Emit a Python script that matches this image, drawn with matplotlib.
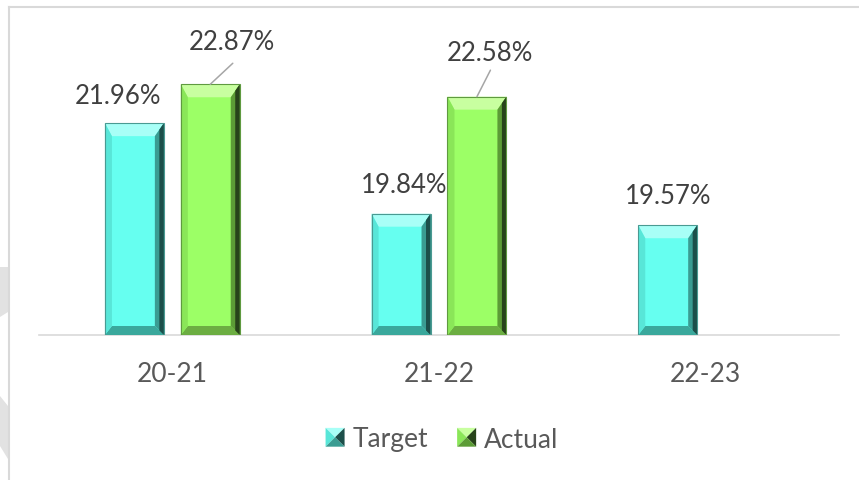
import matplotlib
matplotlib.use("Agg")
import matplotlib.pyplot as plt
from matplotlib.patches import Polygon, Patch
from matplotlib.lines import Line2D
from matplotlib.legend_handler import HandlerBase
import numpy as np

# data
categories = ["20-21", "21-22", "22-23"]
target = [21.96, 19.84, 19.57]
actual = [22.87, 22.58, np.nan]
series_names = ["Target", "Actual"]

plt.rcParams["font.family"] = ["Lato", "DejaVu Sans"]

W, H = 859, 481
YMIN, YMAX = 17, 24
BAR_W = 0.221
OFFSET = 0.1423

# colours: face, top, left, right, right-outer, bottom, outline
PAL = {
    "Target": dict(face="#66fff0", top="#a8fff7", left="#58e6d8", right="#3a9c92",
                   right2="#1c4f4a", bottom="#3aa89c", edge="#4a9a92"),
    "Actual": dict(face="#9cff66", top="#c8ffa0", left="#8ae658", right="#5c9c36",
                   right2="#27431a", bottom="#6cae42", edge="#5f9a40"),
}

# label offsets (pixels) from bar top centre, leader end offsets
label_pos = {
    ("Target", 0): (-16, 28), ("Actual", 0): (21.5, 43),
    ("Target", 1): (3, 29), ("Actual", 1): (13, 44.5),
    ("Target", 2): (0, 29.5),
}
leaders = {("Actual", 0): (22.5, 21), ("Actual", 1): (13.5, 26.5)}

fig = plt.figure(figsize=(W / 100, H / 100), dpi=100)
fig.patch.set_facecolor("white")

# decorative frame and watermark bits
def fpx(pts):
    return [(x / W, 1 - y / H) for x, y in pts]

for pts in ([(0, 268), (8, 268), (8, 313), (0, 318)],
            [(0, 397), (8, 407), (8, 460), (0, 447)]):
    fig.patches.append(Polygon(fpx(pts), closed=True, transform=fig.transFigure,
                               fc="#e2e2e2", ec="none"))
fig.lines.append(Line2D([9 / W, 9 / W], [0, 1 - 8 / H], transform=fig.transFigure,
                        color="#d9d9d9", lw=1.5))
fig.lines.append(Line2D([9 / W, 1], [1 - 8 / H, 1 - 8 / H], transform=fig.transFigure,
                        color="#d9d9d9", lw=1.5))

ax = fig.add_axes([39 / W, 1 - 336 / H, 800 / W, (336 - 37) / H])
ax.set_xlim(-0.5, 2.5)
ax.set_ylim(YMIN, YMAX)
ax.set_facecolor("none")
for s in ["top", "right", "left"]:
    ax.spines[s].set_visible(False)
ax.spines["bottom"].set_color("#d9d9d9")
ax.spines["bottom"].set_linewidth(1.2)
ax.set_yticks([])
ax.set_xticks(range(len(categories)), categories)
ax.tick_params(axis="x", length=0, pad=19, labelsize=19, labelcolor="#595959")

o = ax.transData.transform([(0, YMIN), (1, YMIN + 1)])
sx, sy = o[1][0] - o[0][0], o[1][1] - o[0][1]


def bevel(rect, pal):
    x0, w = rect.get_x(), rect.get_width()
    y0, y1 = rect.get_y(), rect.get_y() + rect.get_height()
    x1 = x0 + w
    l, r, t, b = 7 / sx, 9 / sx, 13 / sy, 9 / sy
    shapes = [
        ([(x0, y1), (x1, y1), (x1 - r, y1 - t), (x0 + l, y1 - t)], pal["top"]),
        ([(x0, y0), (x1, y0), (x1 - r, y0 + b), (x0 + l, y0 + b)], pal["bottom"]),
        ([(x0, y0), (x0, y1), (x0 + l, y1 - t), (x0 + l, y0 + b)], pal["left"]),
        ([(x1, y0), (x1, y1), (x1 - r, y1 - t), (x1 - r, y0 + b)], pal["right"]),
        ([(x1, y0), (x1, y1), (x1 - r / 2, y1 - t / 2), (x1 - r / 2, y0 + b / 2)], pal["right2"]),
    ]
    for pts, c in shapes:
        ax.add_patch(Polygon(pts, closed=True, fc=c, ec="none", zorder=3))
    ax.add_patch(Polygon([(x0, y0), (x0, y1), (x1, y1), (x1, y0)], closed=True,
                         fc="none", ec=pal["edge"], lw=0.8, zorder=4))


x = np.arange(len(categories))
for name, vals, off in (("Target", target, -OFFSET), ("Actual", actual, OFFSET)):
    vals = np.array(vals, dtype=float)
    bars = ax.bar(x + off, vals - YMIN, BAR_W, bottom=YMIN, color=PAL[name]["face"],
                  zorder=2, linewidth=0)
    for i, (rect, v) in enumerate(zip(bars, vals)):
        if np.isnan(v):
            continue
        bevel(rect, PAL[name])
        dx, dy = label_pos[(name, i)]
        ax.annotate(f"{v:.2f}%", xy=(x[i] + off, v), xytext=(dx, dy),
                    textcoords="offset pixels", ha="center", va="center",
                    fontsize=18.5, color="#404040", zorder=6)
        if (name, i) in leaders:
            lx, ly = leaders[(name, i)]
            ax.annotate("", xy=(x[i] + off, v), xytext=(lx, ly), textcoords="offset pixels",
                        arrowprops=dict(arrowstyle="-", color="#a6a6a6", lw=1.1,
                                        shrinkA=0, shrinkB=0), zorder=5)


class PyramidHandler(HandlerBase):
    def __init__(self, pal):
        super().__init__()
        self.pal = pal

    def create_artists(self, legend, orig_handle, xdescent, ydescent, width, height,
                       fontsize, trans):
        x0, y0 = -xdescent, -ydescent
        x1, y1 = x0 + width, y0 + height
        cx, cy = (x0 + x1) / 2, (y0 + y1) / 2
        p = self.pal
        tris = [
            ([(x0, y1), (x1, y1), (cx, cy)], p["top"]),
            ([(x0, y0), (x0, y1), (cx, cy)], p["left"]),
            ([(x1, y0), (x1, y1), (cx, cy)], p["right2"]),
            ([(x0, y0), (x1, y0), (cx, cy)], p["right"]),
        ]
        arts = []
        for pts, c in tris:
            pg = Polygon(pts, closed=True, fc=c, ec="none", transform=trans)
            arts.append(pg)
        return arts


handles = [Patch(label=n) for n in series_names]
fig.legend(handles, series_names, loc="center", bbox_to_anchor=(442 / W, 1 - 440 / H),
           ncol=2, frameon=False, fontsize=19, handlelength=0.72, handleheight=0.72,
           handletextpad=0.3, columnspacing=1.1, labelcolor="#595959",
           handler_map={handles[0]: PyramidHandler(PAL["Target"]),
                        handles[1]: PyramidHandler(PAL["Actual"])})

fig.savefig("out.png", dpi=100)
